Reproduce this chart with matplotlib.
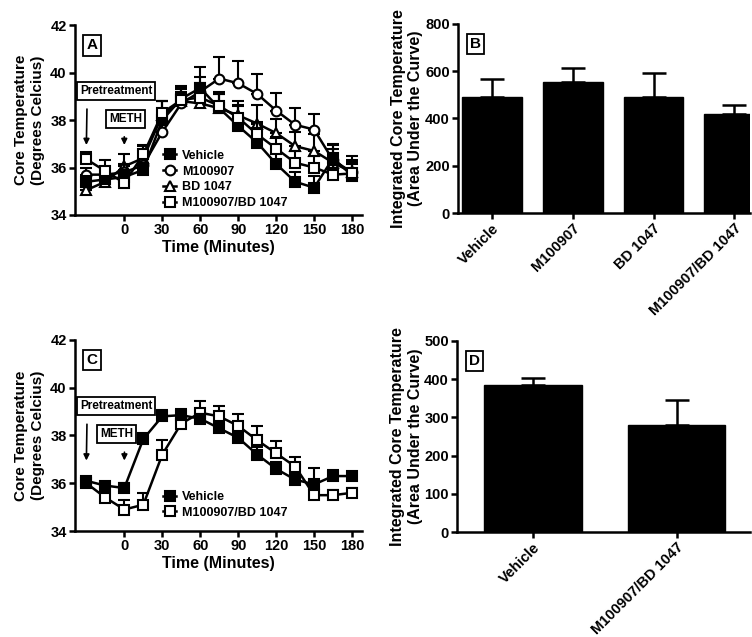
import matplotlib
matplotlib.use("Agg")
import matplotlib.pyplot as plt

plt.rcParams['font.family'] = ['Liberation Sans', 'DejaVu Sans']
plt.rcParams['font.weight'] = 'bold'
plt.rcParams['axes.labelweight'] = 'bold'

time_min = [-30, -15, 0, 15, 30, 45, 60, 75, 90, 105, 120, 135, 150, 165, 180]

# panel A
vehicle_a = [35.4, 35.5, 35.6, 35.9, 38.0, 38.9, 39.35, 38.5, 37.75, 37.05, 36.15, 35.4, 35.15, 36.4, 35.65]
vehicle_a_err = [0.25, 0.2, 0.3, 0.3, 0.8, 0.55, 0.9, 0.6, 0.9, 0.6, 0.5, 0.4, 0.5, 0.55, 0.6]
m100907_a = [35.7, 35.7, 35.8, 36.1, 37.5, 38.7, 39.2, 39.75, 39.55, 39.1, 38.4, 37.8, 37.6, 36.3, 35.8]
m100907_a_err = [0.3, 0.3, 0.35, 0.4, 0.6, 0.5, 0.6, 0.9, 0.95, 0.85, 0.75, 0.7, 0.65, 0.7, 0.7]
bd1047_a = [35.05, 35.4, 36.05, 36.4, 38.2, 38.8, 38.7, 38.5, 38.2, 37.85, 37.45, 36.9, 36.7, 36.2, 35.8]
bd1047_a_err = [0.3, 0.3, 0.5, 0.5, 0.6, 0.5, 0.5, 0.7, 0.6, 0.8, 0.6, 0.6, 0.7, 0.6, 0.5]
combo_a = [36.35, 35.85, 35.35, 36.55, 38.3, 38.85, 38.95, 38.6, 38.1, 37.4, 36.8, 36.2, 36.0, 35.7, 35.75]
combo_a_err = [0.3, 0.45, 0.4, 0.4, 0.5, 0.5, 0.6, 0.5, 0.5, 0.5, 0.5, 0.5, 0.5, 0.4, 0.4]

# panel B
groups_b = ['Vehicle', 'M100907', 'BD 1047', 'M100907/BD 1047']
auc_b = [490, 553, 490, 418]
auc_b_err = [78, 60, 104, 37]

# panel C
vehicle_c = [36.1, 35.9, 35.8, 37.85, 38.8, 38.85, 38.7, 38.3, 37.9, 37.2, 36.6, 36.15, 35.95, 36.3, 36.3]
vehicle_c_err = [0.15, 0.15, 0.2, 0.25, 0.25, 0.25, 0.2, 0.2, 0.25, 0.3, 0.3, 0.25, 0.7, 0.25, 0.15]
combo_c = [36.0, 35.4, 34.9, 35.1, 37.2, 38.5, 38.95, 38.8, 38.4, 37.8, 37.25, 36.7, 35.5, 35.5, 35.6]
combo_c_err = [0.15, 0.25, 0.4, 0.5, 0.6, 0.3, 0.5, 0.45, 0.5, 0.6, 0.5, 0.4, 0.3, 0.2, 0.2]

# panel D
groups_d = ['Vehicle', 'M100907/BD 1047']
auc_d = [384, 279]
auc_d_err = [20, 67]

fig = plt.figure(figsize=(7.52, 6.37), dpi=100)
ax_a = fig.add_axes([0.0997, 0.6625, 0.382, 0.298])
ax_b = fig.add_axes([0.609, 0.6656, 0.388, 0.297])
ax_c = fig.add_axes([0.0997, 0.1664, 0.382, 0.300])
ax_d = fig.add_axes([0.608, 0.1648, 0.389, 0.300])

LW = 1.8
TICKFS = 10.5


def style_axis(ax):
    for s in ['top', 'right']:
        ax.spines[s].set_visible(False)
    for s in ['left', 'bottom']:
        ax.spines[s].set_linewidth(LW)
    ax.tick_params(direction='out', width=LW, length=4, labelsize=TICKFS, pad=2)
    for lab in ax.get_xticklabels() + ax.get_yticklabels():
        lab.set_fontweight('bold')


def panel_letter(ax, letter):
    ax.text(0.04, 0.93, letter, transform=ax.transAxes, fontsize=11, fontweight='bold',
            ha='left', va='top',
            bbox=dict(boxstyle='square,pad=0.2', fc='white', ec='black', lw=1.3))


def draw_series(ax, y, err, marker, fill, label, z):
    ax.errorbar(time_min, y, yerr=[[0] * len(err), err], fmt='none', ecolor='black',
                elinewidth=1.5, capsize=4, capthick=1.5, zorder=z)
    ax.plot(time_min, y, color='black', lw=1.8, marker=marker, markersize=7,
            markerfacecolor='black' if fill else 'white', markeredgecolor='black',
            markeredgewidth=1.5, label=label, zorder=z + 0.5)


def time_panel(ax, meth_x, meth_rel):
    ax.set_xlim(-39, 188)
    ax.set_ylim(34, 42)
    ax.set_xticks([0, 30, 60, 90, 120, 150, 180])
    ax.set_yticks([34, 36, 38, 40, 42])
    ax.set_xlabel('Time (Minutes)', fontsize=11.5, fontweight='bold', labelpad=2)
    ax.set_ylabel('Core Temperature\n(Degrees Celcius)', fontsize=11, fontweight='bold')
    box = dict(boxstyle='square,pad=0.25', fc='white', ec='black', lw=1.3)
    ax.annotate('Pretreatment', xy=(-30, 36.95), xytext=(-6.5, 39.22), ha='center', va='center',
                fontsize=8.5, fontweight='bold', bbox=box,
                arrowprops=dict(arrowstyle='-|>', color='black', lw=1.2, shrinkA=6, shrinkB=0,
                                relpos=(0.1, 0.0)))
    ax.annotate('METH', xy=(0, 36.95), xytext=(meth_x, 38.05), ha='center', va='center',
                fontsize=8.5, fontweight='bold', bbox=box,
                arrowprops=dict(arrowstyle='-|>', color='black', lw=1.2, shrinkA=6, shrinkB=0,
                                relpos=(meth_rel, 0.0)))
    style_axis(ax)


def bold_legend(ax, anchor):
    leg = ax.legend(loc='upper left', bbox_to_anchor=anchor, frameon=False, fontsize=9,
                    handlelength=1.0, handletextpad=0.5, labelspacing=0.3, borderaxespad=0)
    for t in leg.get_texts():
        t.set_fontweight('bold')


# A
draw_series(ax_a, vehicle_a, vehicle_a_err, 's', True, 'Vehicle', 4)
draw_series(ax_a, m100907_a, m100907_a_err, 'o', False, 'M100907', 3)
draw_series(ax_a, bd1047_a, bd1047_a_err, '^', False, 'BD 1047', 2)
draw_series(ax_a, combo_a, combo_a_err, 's', False, 'M100907/BD 1047', 5)
time_panel(ax_a, 1.2, 0.45)
panel_letter(ax_a, 'A')
bold_legend(ax_a, (0.29, 0.37))

# C
draw_series(ax_c, vehicle_c, vehicle_c_err, 's', True, 'Vehicle', 4)
draw_series(ax_c, combo_c, combo_c_err, 's', False, 'M100907/BD 1047', 3)
time_panel(ax_c, -6.3, 0.75)
panel_letter(ax_c, 'C')
bold_legend(ax_c, (0.29, 0.235))


def bar_panel(ax, groups, vals, errs, ymax, step, width, xlim):
    pos = list(range(len(groups)))
    ax.bar(pos, vals, width=width, color='black', edgecolor='black', zorder=2)
    ax.errorbar(pos, vals, yerr=[[0] * len(errs), errs], fmt='none', ecolor='black',
                elinewidth=1.8, capsize=8.5, capthick=1.8, zorder=1)
    ax.set_xlim(*xlim)
    ax.set_ylim(0, ymax)
    ax.set_yticks(list(range(0, ymax + 1, step)))
    ax.set_xticks(pos)
    ax.set_xticklabels(groups, rotation=45, ha='right', rotation_mode='anchor', fontsize=10)
    ax.set_ylabel('Integrated Core Temperature\n(Area Under the Curve)', fontsize=11.5,
                  fontweight='bold', labelpad=1)
    style_axis(ax)


bar_panel(ax_b, groups_b, auc_b, auc_b_err, 800, 200, 0.74, (-0.42, 3.19))
panel_letter(ax_b, 'B')
bar_panel(ax_d, groups_d, auc_d, auc_d_err, 500, 100, 0.68, (-0.53, 1.51))
panel_letter(ax_d, 'D')

fig.savefig('out.png', dpi=100)
